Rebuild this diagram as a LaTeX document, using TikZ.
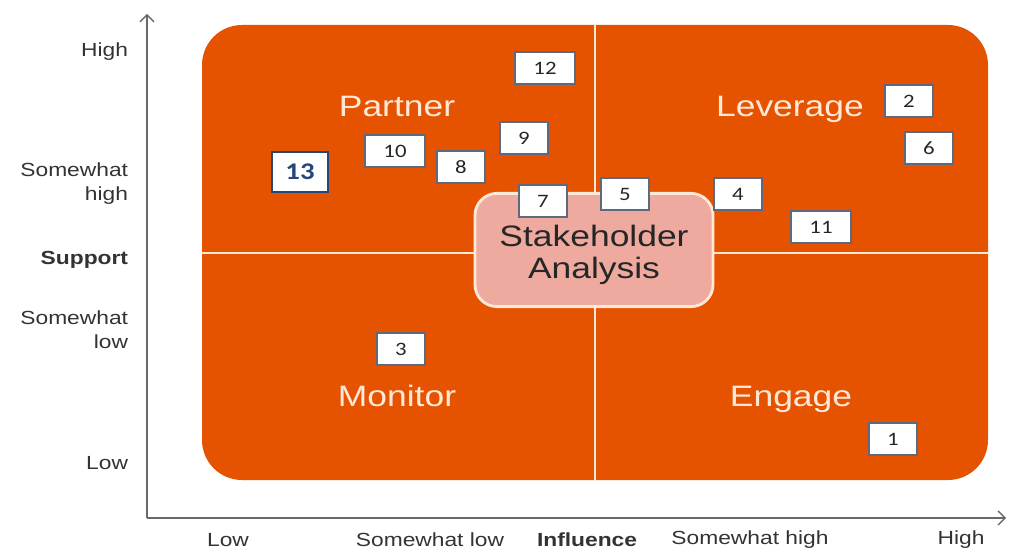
\documentclass[tikz,border=0pt]{standalone}
\usepackage{fontspec}
\setmainfont{Liberation Sans}[FakeStretch=1.2]
\newfontfamily\numfont{Carlito}[FakeStretch=1.2]
\usetikzlibrary{arrows.meta}

\definecolor{gridorange}{RGB}{229,83,0}
\definecolor{hubpink}{RGB}{239,170,160}
\definecolor{quadtext}{RGB}{255,232,215}
\definecolor{boxgray}{RGB}{95,105,125}
\definecolor{darkblue}{RGB}{38,70,122}
\definecolor{axisgray}{RGB}{105,105,105}

\begin{document}
\begin{tikzpicture}[x=0.025cm, y=-0.025cm,
  axis/.style={draw=axisgray, line width=0.9pt, -{Straight Barb[length=5pt,width=10pt]}},
  divider/.style={draw=quadtext, line width=2pt},
  tick/.style={anchor=east, align=right, text=black!80, font=\fontsize{13.5}{17}\selectfont},
  xtick/.style={text=black!80, font=\fontsize{13.5}{17}\selectfont},
  quadrant/.style={anchor=base, text=quadtext, font=\fontsize{21}{24}\selectfont},
  hub/.style={draw=quadtext, line width=2pt, fill=hubpink, rounded corners=0.55cm,
    minimum width=5.95cm, minimum height=2.83cm},
  hubtext/.style={align=center, text=black!85, font=\fontsize{21}{22.8}\selectfont},
  numbox/.style={draw=boxgray, line width=1pt, fill=white, minimum height=0.8cm,
    inner sep=0pt, text=black!85, font=\numfont\fontsize{13.5}{14}\selectfont}]

  \useasboundingbox (0,0) rectangle (1028,558);

  % --- axes ---
  \coordinate (O) at (147,518);
  \coordinate (ytop) at (147,14);
  \coordinate (xend) at (1006,518);
  \draw[axis] (O) -- (ytop);
  \draw[axis] (O) -- (xend);

  % --- quadrant field ---
  \fill[gridorange, rounded corners=1cm] (202,25) rectangle (988,480);
  \coordinate (vtop) at (595,25);
  \coordinate (vbot) at (595,480);
  \coordinate (hleft) at (202,253);
  \coordinate (hright) at (988,253);
  \draw[divider] (vtop) -- (vbot);
  \draw[divider] (hleft) -- (hright);

  \node[quadrant] (partner) at (397,117) {Partner};
  \node[quadrant] (leverage) at (790,117) {Leverage};
  \node[quadrant] (monitor) at (397,406) {Monitor};
  \node[quadrant] (engage) at (791,406) {Engage};

  % --- centre ---
  \node[hub] (hub) at (594,250) {};
  \node[hubtext] (hublabel) at (594,255) {Stakeholder\\Analysis};

  % --- stakeholders ---
  \foreach \n/\x/\y/\w in {12/545/68/1.5, 2/909/101/1.2, 6/929/148/1.2,
      9/524/138/1.2, 10/395/151/1.5, 8/461/167/1.2, 7/543/201/1.2,
      5/625/194/1.2, 4/738/194/1.2, 11/821/227/1.5, 3/401/349/1.2,
      1/893/439/1.2}
    \node[numbox, minimum width=\w cm] (s\n) at (\x,\y) {\n};
  \node[numbox, draw=darkblue, line width=2pt, minimum width=1.4cm,
    minimum height=1cm, text=darkblue,
    font=\numfont\bfseries\fontsize{17}{17}\selectfont] (s13) at (300,172) {13};

  % --- support labels ---
  \node[tick] (yhigh) at (133,52) {High};
  \node[tick] (yshigh) at (133,184) {Somewhat\\high};
  \node[tick, font=\bfseries\fontsize{13.5}{17}\selectfont] (ysupport) at (133,260) {Support};
  \node[tick] (yslow) at (133,330) {Somewhat\\low};
  \node[tick] (ylow) at (133,463) {Low};

  % --- influence labels ---
  \node[xtick] (xlow) at (228,540) {Low};
  \node[xtick] (xslow) at (430,540) {Somewhat low};
  \node[xtick, font=\bfseries\fontsize{13.5}{17}\selectfont] (xinfluence) at (587,540) {Influence};
  \node[xtick] (xshigh) at (750,540) {Somewhat high};
  \node[xtick] (xhigh) at (961,540) {High};

\end{tikzpicture}
\end{document}
